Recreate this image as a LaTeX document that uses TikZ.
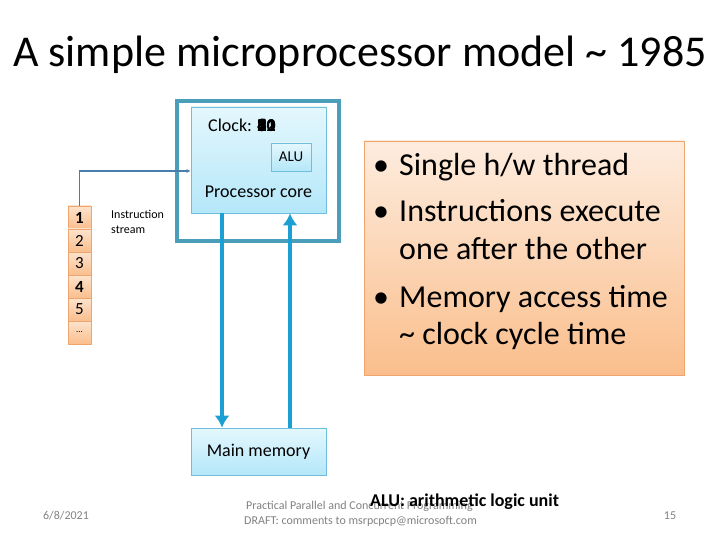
\documentclass[tikz,border=0pt]{standalone}
\usepackage{fontspec}
\setmainfont{Carlito}
\usetikzlibrary{arrows.meta}

\definecolor{framecol}{RGB}{75,158,186}
\definecolor{coreline}{RGB}{110,190,220}
\definecolor{coretop}{RGB}{228,247,253}
\definecolor{corebot}{RGB}{180,231,249}
\definecolor{busblue}{RGB}{28,160,212}
\definecolor{linkblue}{RGB}{74,126,170}
\definecolor{orline}{RGB}{240,165,110}
\definecolor{ortop}{RGB}{253,236,222}
\definecolor{orbot}{RGB}{250,190,140}
\definecolor{footgray}{RGB}{130,130,130}

\begin{document}
\begin{tikzpicture}[
    x=1pt, y=-1pt,
    corebox/.style={draw=coreline, line width=0.8pt, top color=coretop, bottom color=corebot, inner sep=0pt},
    stackbox/.style={draw=orline, line width=0.8pt, top color=ortop!80!orbot, bottom color=orbot, minimum width=23pt, minimum height=23pt, inner sep=0pt, font=\fontsize{17}{19}\selectfont},
    bus/.style={busblue, line width=3.5pt, -{Latex[length=12pt,width=15pt]}},
    foot/.style={footgray, inner sep=0pt, anchor=base west, font=\fontsize{12}{14}\selectfont}
]
    % page
    \fill[white] (0,0) rectangle (720,540);
    \useasboundingbox (0,0) rectangle (720,540);

    % Title
    \node[inner sep=0pt, anchor=base, font=\fontsize{44}{52}\selectfont] (title) at (360,67) {A simple microprocessor model \textasciitilde{} 1985};

    % Processor frame and core
    \node[draw=framecol, line width=3.2pt, minimum width=162pt, minimum height=140pt, inner sep=0pt] (cpu) at (258,171) {};
    \node[corebox, minimum width=135pt, minimum height=106pt] (core) at (258.5,160) {};
    \node[corebox, minimum width=40pt, minimum height=28pt, font=\fontsize{15}{17}\selectfont] (alu) at (291,157) {ALU};
    % clock ticks printed on top of each other
    \node[inner sep=0pt, anchor=base west, font=\fontsize{18}{20}\selectfont] (clock) at (208,132) {Clock: \textbf{\rlap{1}\rlap{2}\rlap{3}\rlap{4}\rlap{5}\rlap{6}\rlap{7}\rlap{8}\rlap{9}\rlap{10}\rlap{11}12}};
    \node[inner sep=0pt, anchor=base, font=\fontsize{18}{20}\selectfont] (corelabel) at (258.5,198) {Processor core};

    % Main memory
    \node[corebox, minimum width=135pt, minimum height=47pt, font=\fontsize{18}{20}\selectfont] (mem) at (258.5,451.5) {Main memory};

    % Memory traffic
    \draw[bus] ([xshift=-36.5pt]core.south) -- ([xshift=-36.5pt]mem.north);
    \draw[bus] ([xshift=31.5pt]mem.north) -- ([xshift=31.5pt]core.south);

    % Instruction stream
    \foreach \n/\lab in {1/\textbf{1},2/2,3/3,4/\textbf{4},5/5,6/{\fontsize{9}{10}\selectfont\dots}} {
        \node[stackbox] (ins\n) at (79.5,{194.5+23*\n}) {\lab};
    }
    \draw[linkblue, line width=1.5pt, -{Latex[length=4pt,width=4pt]}] (ins1.north) |- ([yshift=-11pt]core.west);
    \node[inner sep=0pt, anchor=north west, align=left, font=\fontsize{12}{15}\selectfont] (stream) at (111,210) {Instruction\\stream};

    % Notes
    \node[draw=orline, line width=0.8pt, top color=ortop, bottom color=orbot, minimum width=320pt, minimum height=234pt, inner sep=0pt] (notes) at (524,258) {};
    \foreach \y/\txt/\b in {176/{Single h/w thread}/1, 222/{Instructions execute}/1, 259/{one after the other}/0, 307/{Memory access time}/1, 344/{\textasciitilde{} clock cycle time}/0} {
        \node[inner sep=0pt, anchor=base west, font=\fontsize{32}{38}\selectfont] (line\y) at (399,\y) {\txt};
        \ifnum\b=1
            \node[inner sep=0pt, anchor=base, font=\fontsize{32}{38}\selectfont] (dot\y) at (381,\y) {\textbullet};
        \fi
    }

    % Footer
    \node[foot, anchor=base] (date) at (66,519) {6/8/2021};
    \node[foot] (course) at (246,509) {Practical Parallel and Concurrent Programming};
    \node[foot] (draft) at (244,524) {DRAFT: comments to msrpcpcp@microsoft.com};
    \node[foot, anchor=base] (page) at (670,519) {15};
    \node[inner sep=0pt, anchor=base west, font=\fontsize{18}{20}\selectfont\bfseries] (alunote) at (370,506) {ALU: arithmetic logic unit};
\end{tikzpicture}
\end{document}
